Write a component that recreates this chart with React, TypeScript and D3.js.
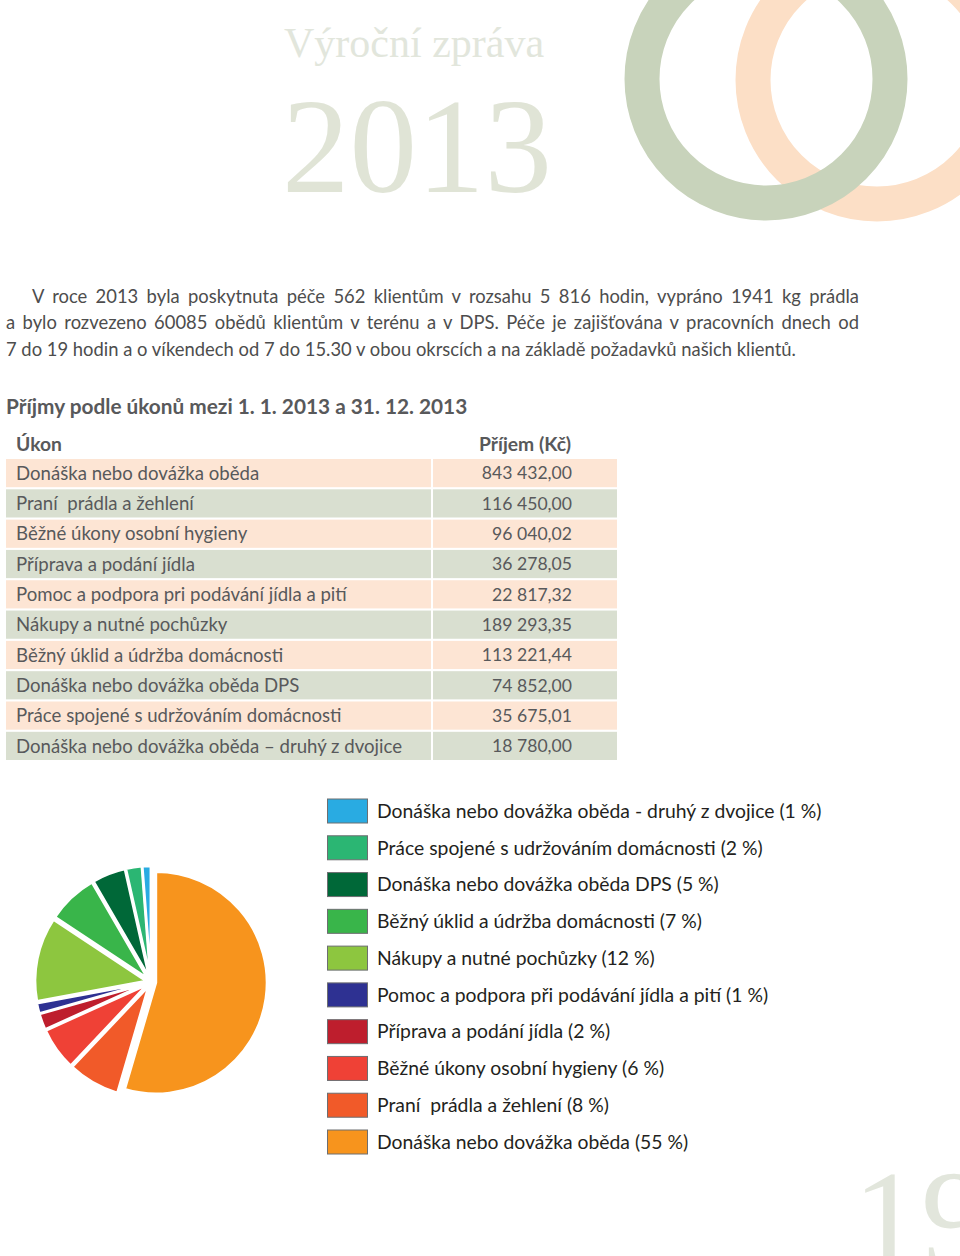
import React, { useEffect, useRef } from "react";
import * as d3 from "d3";

// ---------- DATA ----------
const tableLabels = [
  "Donáška nebo dovážka oběda",
  "Praní  prádla a žehlení",
  "Běžné úkony osobní hygieny",
  "Příprava a podání jídla",
  "Pomoc a podpora pri podávání jídla a pití",
  "Nákupy a nutné pochůzky",
  "Běžný úklid a údržba domácnosti",
  "Donáška nebo dovážka oběda DPS",
  "Práce spojené s udržováním domácnosti",
  "Donáška nebo dovážka oběda – druhý z dvojice",
];
const incomes = [
  843432.0, 116450.0, 96040.02, 36278.05, 22817.32, 189293.35, 113221.44,
  74852.0, 35675.01, 18780.0,
];
const legendLabels = [
  "Donáška nebo dovážka oběda",
  "Praní  prádla a žehlení",
  "Běžné úkony osobní hygieny",
  "Příprava a podání jídla",
  "Pomoc a podpora při podávání jídla a pití",
  "Nákupy a nutné pochůzky",
  "Běžný úklid a údržba domácnosti",
  "Donáška nebo dovážka oběda DPS",
  "Práce spojené s udržováním domácnosti",
  "Donáška nebo dovážka oběda - druhý z dvojice",
];
const legendPercents = [55, 8, 6, 2, 1, 12, 7, 5, 2, 1];
const sliceColors = [
  "#f7941d",
  "#f15a29",
  "#ef4136",
  "#be1e2d",
  "#2e3192",
  "#8dc63f",
  "#39b54a",
  "#006838",
  "#2bb673",
  "#29abe2",
];
const headerLabels = ["Úkon", "Příjem (Kč)"];
const titleLines = ["Výroční zpráva", "2013"];
const pageNumber = "19";
const heading = "Příjmy podle úkonů mezi 1. 1. 2013 a 31. 12. 2013";
const paragraphLines = [
  "V roce 2013 byla poskytnuta péče 562 klientům v rozsahu 5 816 hodin, vypráno 1941 kg prádla",
  "a bylo rozvezeno 60085 obědů klientům v terénu a v DPS. Péče je zajišťována v pracovních dnech od",
  "7 do 19 hodin a o víkendech od 7 do 15.30 v obou okrscích a na základě požadavků našich klientů.",
];

// ---------- HELPERS ----------
const W = 960;
const H = 1256;
const SANS = "Lato, 'Noto Sans', sans-serif";
const SERIF = "'Liberation Serif', 'DejaVu Serif', serif";

const cs = d3.formatLocale({
  decimal: ",",
  thousands: " ",
  grouping: [3],
  currency: ["", " Kč"],
});
const fmt = cs.format(",.2f");

export default function App() {
  const paraRef = useRef<SVGGElement>(null);

  useEffect(() => {
    if (!paraRef.current) return;
    const g = d3.select(paraRef.current);
    g.selectAll<SVGTextElement, unknown>("text.justify").each(function () {
      const el = this as SVGTextElement;
      const x0 = +el.getAttribute("x")!;
      const target = +el.getAttribute("data-right")! - x0;
      el.setAttribute("word-spacing", "0");
      const natural = el.getComputedTextLength();
      const spaces = (el.textContent || "").split(" ").length - 1;
      if (spaces > 0) {
        el.setAttribute("word-spacing", String((target - natural) / spaces));
      }
    });
  }, []);

  // table scales
  const rowY = d3
    .scaleBand<number>()
    .domain(d3.range(tableLabels.length))
    .range([459, 760])
    .paddingInner(0.07)
    .paddingOuter(0);
  const colX = { left0: 6, left1: 431, right0: 433, right1: 617 };

  // pie
  const cx = 151;
  const cy = 982;
  const r = 111;
  const explode = 5;
  const pie = d3
    .pie<number>()
    .sort(null)
    .value((d) => d)
    .startAngle(0)
    .endAngle(2 * Math.PI);
  const arcs = pie(incomes);
  const arcGen = d3.arc<d3.PieArcDatum<number>>().innerRadius(0).outerRadius(r);

  // legend
  const legendOrder = d3.range(tableLabels.length).reverse();
  const legY = d3
    .scalePoint<number>()
    .domain(legendOrder)
    .range([811, 1142]);

  const pre = { whiteSpace: "pre" as const };

  return (
    <svg
      width={W}
      height={H}
      viewBox={`0 0 ${W} ${H}`}
      style={{ position: "absolute", left: 0, top: 0, background: "#fff" }}
    >
      <rect x={0} y={0} width={W} height={H} fill="#ffffff" />
      {/* decorative rings */}
      <circle cx={877} cy={80} r={124} fill="none" stroke="#fcdfc6" strokeWidth={35} />
      <circle cx={766} cy={79} r={124} fill="none" stroke="#c8d3bb" strokeWidth={35} />

      {/* title */}
      <text x={284} y={57} fontFamily={SERIF} fontSize={42} fill="#e2e6dc">
        {titleLines[0]}
      </text>
      <text x={282} y={192} fontFamily={SERIF} fontSize={135} fill="#e0e4d6">
        {titleLines[1]}
      </text>

      {/* paragraph */}
      <g ref={paraRef} fontFamily={SANS} fontSize={18.4} fill="#4d4d4d">
        <text className="justify" x={32} y={303} data-right={859}>
          {paragraphLines[0]}
        </text>
        <text className="justify" x={6} y={329} data-right={859}>
          {paragraphLines[1]}
        </text>
        <text x={6} y={356}>
          {paragraphLines[2]}
        </text>
      </g>

      {/* heading */}
      <text x={6} y={414} fontFamily={SANS} fontSize={20.8} fontWeight={700} fill="#58595b">
        {heading}
      </text>

      {/* table */}
      <g fontFamily={SANS} fill="#58595b">
        <text x={16} y={451} fontSize={19.3} fontWeight={700}>
          {headerLabels[0]}
        </text>
        <text x={571} y={451} fontSize={19.3} fontWeight={700} textAnchor="end">
          {headerLabels[1]}
        </text>
        {tableLabels.map((lab, i) => {
          const y = rowY(i)!;
          const h = rowY.bandwidth();
          const fill = i % 2 === 0 ? "#fde5d4" : "#d9dfd0";
          return (
            <g key={i}>
              <rect x={colX.left0} y={y} width={colX.left1 - colX.left0} height={h} fill={fill} />
              <rect x={colX.right0} y={y} width={colX.right1 - colX.right0} height={h} fill={fill} />
              <text x={16} y={y + h / 2} dy="0.36em" fontSize={18.6} fill="#58595b" style={pre}>
                {lab}
              </text>
              <text x={572} y={y + h / 2} dy="0.36em" fontSize={17.6} textAnchor="end" fill="#58595b">
                {fmt(incomes[i])}
              </text>
            </g>
          );
        })}
      </g>

      {/* pie */}
      <g transform={`translate(${cx},${cy})`}>
        {arcs.map((a, i) => {
          const mid = (a.startAngle + a.endAngle) / 2;
          const dx = Math.sin(mid) * explode;
          const dy = -Math.cos(mid) * explode;
          return (
            <path
              key={i}
              d={arcGen(a) || ""}
              transform={`translate(${dx},${dy})`}
              fill={sliceColors[i]}
              stroke="#ffffff"
              strokeWidth={2.5}
              strokeLinejoin="round"
            />
          );
        })}
      </g>

      {/* legend */}
      <g fontFamily={SANS} fontSize={19.35} fill="#231f20">
        {legendOrder.map((i) => {
          const y = legY(i)!;
          return (
            <g key={i}>
              <rect
                x={327.5}
                y={y - 12}
                width={40}
                height={24}
                fill={sliceColors[i]}
                stroke="#6d6e71"
                strokeWidth={1}
              />
              <text x={377} y={y} dy="0.35em" style={pre}>
                {`${legendLabels[i]} (${legendPercents[i]} %)`}
              </text>
            </g>
          );
        })}
      </g>

      {/* page number */}
      <text x={853} y={1264} fontFamily={SERIF} fontSize={136} fill="#e2e6dc">
        {pageNumber}
      </text>
    </svg>
  );
}
